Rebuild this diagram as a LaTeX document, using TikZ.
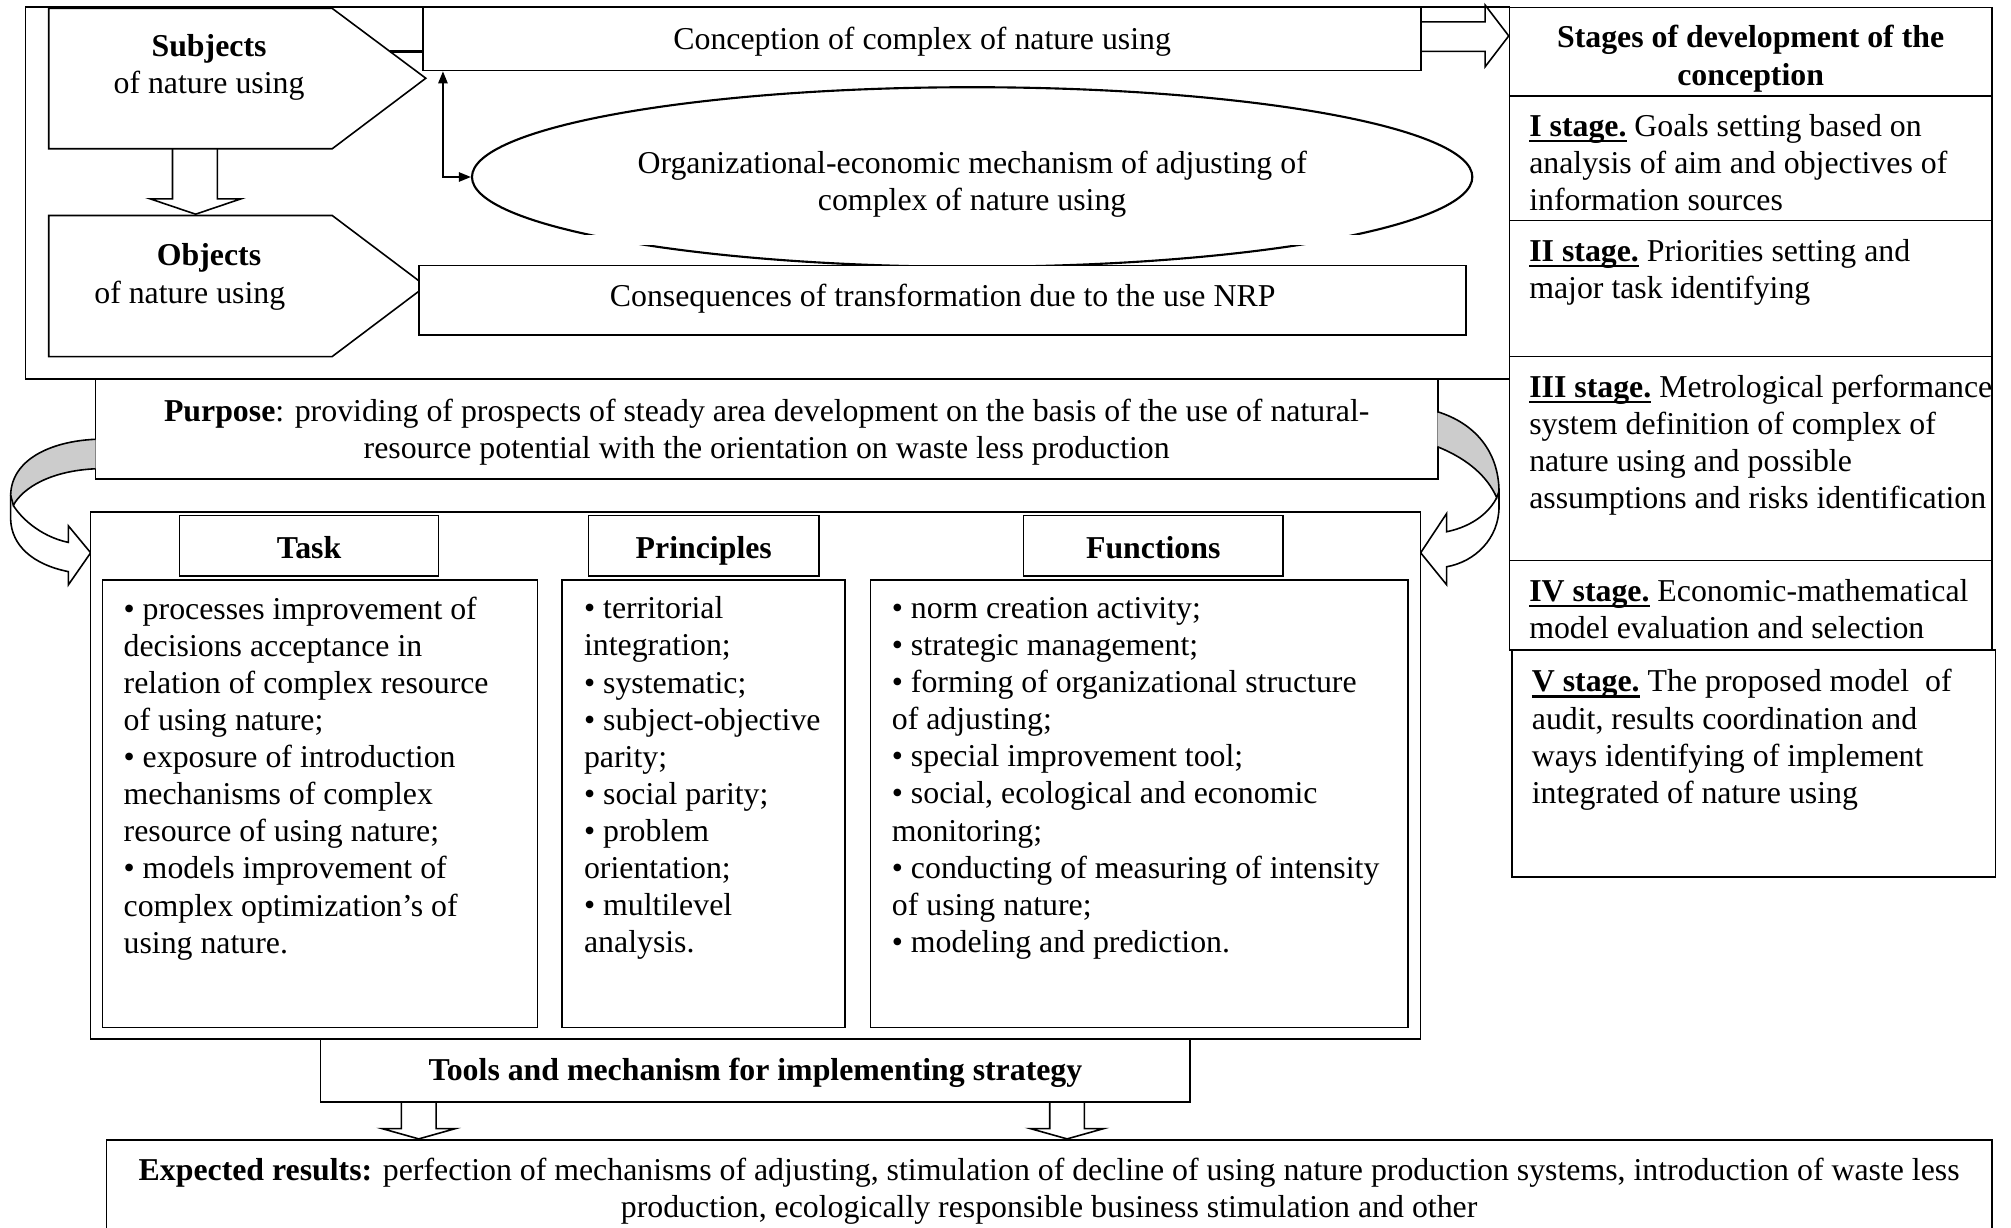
\documentclass[tikz,border=0pt]{standalone}
\usepackage{fontspec}
\setmainfont{Liberation Serif}
\usetikzlibrary{arrows.meta,calc,shapes.geometric}

\newcommand{\px}{0.017cm}
\newcommand{\bodyfont}{\fontsize{12}{14}\selectfont}
\newcommand{\stg}[1]{\setbox0=\hbox{\textbf{#1}}\rlap{\rule[-2.2pt]{\wd0}{0.9pt}}\box0\relax}
\newcommand{\topstrut}{\rule{0pt}{13.8pt}}
\newcommand{\botstrut}{\rule[-4.2pt]{0pt}{4.2pt}}

\tikzset{
  box/.style={draw, line width=0.6pt, fill=white, inner sep=0pt},
  dims/.style 2 args={minimum width={(#1)*\px}, minimum height={(#2)*\px}},
  txt/.style={inner sep=0pt, font=\bodyfont, align=center,
    execute at begin node=\topstrut, execute at end node=\botstrut},
  ltxt/.style={txt, align=left, anchor=west},
  blk/.style={draw, line width=0.6pt, line join=miter},
  twist/.style={draw, line width=0.6pt, fill=black!20},
  dblarrow/.style={line width=0.6pt, {Triangle[length=4.5pt,width=3.5pt]}-{Triangle[length=4.5pt,width=3.5pt]}}
}

\begin{document}
\begin{tikzpicture}[x=\px, y=-\px]

    \useasboundingbox (0,0) rectangle (1568,957);

    % Frame round the upper part
    \draw[line width=0.6pt] (1177,5.5) -- (20,5.5) -- (20,295.5) -- (1177,295.5);

    % Subjects and objects
    \coordinate (subjS) at (152,116);
    \coordinate (objN) at (152,168);
    \coordinate (subjE) at (304,40);
    \draw[blk] ($(subjS)+(-17.5,0)$) -- ++(0,39) -- ++(-17.5,0) -- ++(35.5,12)
        -- ++(35.5,-12) -- ++(-18.5,0) -- ++(0,-39);
    \draw[line width=0.6pt] (38,6.5) -- (259,6.5) -- (332,61) -- (259,116) -- (38,116) -- cycle;
    \draw[line width=0.6pt] (38,168) -- (259,168) -- (332,223) -- (259,278) -- (38,278) -- cycle;
    \node[txt] (subj) at (163,54.5) {\textbf{Subjects}\\of nature using};
    \node[txt] (obj) at (163,197) {\textbf{Objects}};
    \node[txt] (objB) at (148,226.5) {of nature using};

    % Conception, mechanism, consequences
    \node[box, dims={778}{49}] (conc) at (719,30.5) {};
    \node[txt] (concT) at (719,28.5) {Conception of complex of nature using};
    \draw[line width=1.3pt] (subjE) -- (conc.west |- subjE);
    \node[draw, ellipse, line width=0.8pt, dims={780}{140}] (mech) at (758,138) {};
    \fill[white] (455,183) rectangle (1062,191);
    \node[txt] (mechT) at (758,145) {Organizational-economic mechanism of adjusting of\\complex of nature using};
    \draw[dblarrow] ($(conc.south west)+(16,0)$) |- (mech.west);
    \node[box, dims={816.5}{54}] (cons) at (734.75,234) {};
    \node[txt] (consT) at (735,229) {Consequences of transformation due to the use NRP};

    % Stages of development
    \foreach \n/\t/\b in {0/6/75, 1/75/172, 2/172/278, 3/278/437, 4/437/507}
        \node[box, dims={376}{\b-\t}] (st\n) at (1365,{(\t+\b)/2}) {};
    \node[box, dims={377}{177}] (st5) at (1367.5,595.5) {};
    \draw[blk] (conc.east |- 0,17) -- (1158,17) -- (1158,4) -- (st0.west |- 0,28)
        -- (1158,52) -- (1158,40) -- (conc.east |- 0,40);
    \node[txt] (st0t) at (1365,47.5) {\textbf{Stages of development of the}\\\textbf{conception}};
    \node[ltxt] (st1t) at (1192,131) {\stg{I stage.} Goals setting based on\\analysis of aim and objectives of\\information sources};
    \node[ltxt] (st2t) at (1192,214) {\stg{II stage.} Priorities setting and\\major task identifying};
    \node[ltxt] (st3t) at (1192,349) {\stg{III stage.} Metrological performance\\system definition of complex of\\nature using and possible\\assumptions and risks identification};
    \node[ltxt] (st4t) at (1192,479) {\stg{IV stage.} Economic-mathematical\\model evaluation and selection};
    \node[ltxt] (st5t) at (1194,578.5) {\stg{V stage.} The proposed model\ \ of\\audit, results coordination and\\ways identifying of implement\\integrated of nature using};

    % Purpose
    \node[box, dims={1046.4}{77.6}] (purp) at (597.8,334.8) {};
    \node[txt] (purpT) at (597.8,338.5)
        {\textbf{Purpose}: providing of prospects of steady area development on the basis of the use of natural-\\resource potential with the orientation on waste less production};

    % Curved arrows from the purpose
    \draw[twist] (74.6,342.5) .. controls (40,344) and (9,358) .. (8.3,386)
        -- (10.4,394) .. controls (18,380) and (40,367) .. (74.6,365.5);
    \draw[blk] (8.3,386) -- (8.3,405) .. controls (9,425) and (25,440) .. (53.3,445.7)
        -- (53.3,456) -- (70.7,431) -- (53.3,410) -- (53.3,422.9)
        .. controls (30,418) and (15,402) .. (10.4,394);
    \draw[twist] (1120.7,321) .. controls (1150,330) and (1168.5,352) .. (1168.8,383)
        -- (1167,388) .. controls (1160,372) and (1145,358) .. (1120.7,348.3);
    \draw[blk] (1168.8,383) -- (1168.8,395) .. controls (1168.8,420) and (1150,438) .. (1128,441.9)
        -- (1128,456) -- (1107.7,431) -- (1128,400.3) -- (1128,414.6)
        .. controls (1150,410) and (1162,398) .. (1167,388);

    % Task, principles, functions
    \node[box, dims={1037.2}{411}] (core) at (589.1,604.5) {};
    \node[box, txt, dims={202}{47}] (taskH) at (241,425.5) {\textbf{Task}};
    \node[box, txt, dims={180}{47}] (prinH) at (548.75,425.5) {\textbf{Principles}};
    \node[box, txt, dims={202.4}{47}] (funcH) at (899.2,425.5) {\textbf{Functions}};
    \node[box, dims={339.2}{349}] (taskB) at (249.6,626.5) {};
    \node[box, dims={221}{349}] (prinB) at (548.5,626.5) {};
    \node[box, dims={419.3}{349}] (funcB) at (888.35,626.5) {};
    \node[ltxt] (taskT) at (96,608.5) {• processes improvement of\\decisions acceptance in\\relation of complex resource\\of using nature;\\• exposure of introduction\\mechanisms of complex\\resource of using nature;\\• models improvement of\\complex optimization’s of\\using nature.};
    \node[ltxt] (prinT) at (455,608.5) {• territorial\\integration;\\• systematic;\\• subject-objective\\parity;\\• social parity;\\• problem\\orientation;\\• multilevel\\analysis.};
    \node[ltxt] (funcT) at (695,608.5) {• norm creation activity;\\• strategic management;\\• forming of organizational structure\\of adjusting;\\• special improvement tool;\\• social, ecological and economic\\monitoring;\\• conducting of measuring of intensity\\of using nature;\\• modeling and prediction.};

    % Tools and results
    \node[box, dims={678}{49}] (tools) at (589,834.5) {};
    \node[txt] (toolsT) at (589,832.5) {\textbf{Tools and mechanism for implementing strategy}};
    \foreach \xa in {326.5, 832}
        \draw[blk] (\xa-13.5,859) -- ++(0,21) -- ++(-15,0) -- ++(28.5,8) -- ++(28.5,-8) -- ++(-15,0) -- ++(0,-21);
    \node[box, dims={1470}{75}] (res) at (818,926.5) {};
    \node[txt] (resT) at (818,930.5)
        {\textbf{Expected results:} perfection of mechanisms of adjusting, stimulation of decline of using nature production systems, introduction of waste less\\production, ecologically responsible business stimulation and other};
\end{tikzpicture}
\end{document}
